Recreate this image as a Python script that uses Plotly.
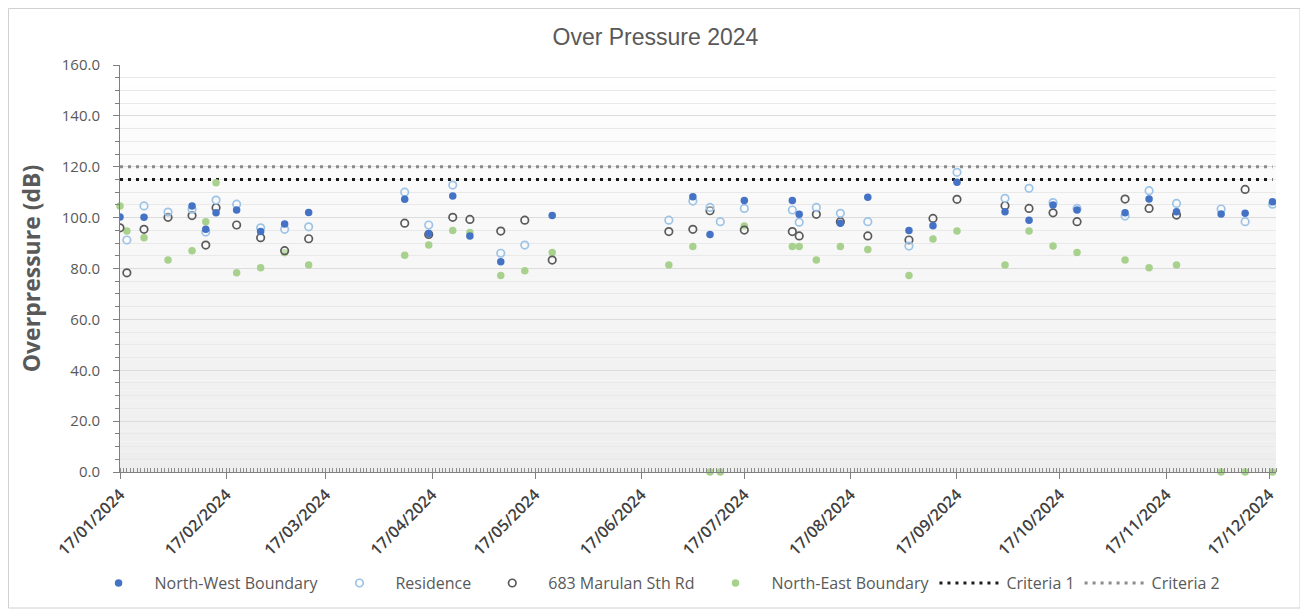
import plotly.graph_objects as go

# ---------------- data ----------------
dates = [
    "2024-01-17", "2024-01-19", "2024-01-24", "2024-01-31", "2024-02-07",
    "2024-02-11", "2024-02-14", "2024-02-20", "2024-02-27", "2024-03-05",
    "2024-03-12", "2024-04-09", "2024-04-16", "2024-04-23", "2024-04-28",
    "2024-05-07", "2024-05-14", "2024-05-22", "2024-06-25", "2024-07-02",
    "2024-07-07", "2024-07-10", "2024-07-17", "2024-07-31", "2024-08-02",
    "2024-08-07", "2024-08-14", "2024-08-22", "2024-09-03", "2024-09-10",
    "2024-09-17", "2024-10-01", "2024-10-08", "2024-10-15", "2024-10-22",
    "2024-11-05", "2024-11-12", "2024-11-20", "2024-12-03", "2024-12-10",
    "2024-12-18",
]
north_west = [
    100.2, None, 100.1, None, 104.6,
    95.4, 101.9, 103.0, 94.5, 97.5,
    102.0, 107.2, 93.8, 108.5, 92.8,
    82.7, None, 100.8, None, 108.2,
    93.4, None, 106.7, 106.7, 101.3,
    None, 97.8, 108.0, 94.9, 96.8,
    113.9, 102.3, 99.0, 105.0, 103.0,
    101.9, 107.3, 102.3, 101.4, 101.7,
    106.2,
]
residence = [
    None, 91.2, 104.6, 102.2, 103.3,
    94.3, 106.9, 105.3, 96.0, 95.4,
    96.4, 110.0, 97.1, 112.8, None,
    86.0, 89.2, None, 99.0, 106.5,
    104.0, 98.4, 103.6, 103.0, 98.2,
    104.0, 101.7, 98.4, 88.8, None,
    117.8, 107.6, 111.5, 105.9, 103.6,
    100.6, 110.6, 105.6, 103.4, 98.4,
    105.3,
]
marulan_683 = [
    96.0, 78.3, 95.4, 100.1, 100.8,
    89.2, 103.9, 97.1, 92.1, 87.0,
    91.7, 97.8, 93.4, 100.1, 99.3,
    94.7, 99.0, 83.3, 94.5, 95.4,
    102.7, None, 95.1, 94.5, 92.8,
    101.3, 98.4, 92.8, 91.2, 99.7,
    107.2, 104.7, 103.6, 101.9, 98.4,
    107.3, 103.6, 101.0, None, 111.1,
    None,
]
north_east = [
    104.6, 94.7, 92.1, 83.3, 87.0,
    98.4, 113.7, 78.3, 80.3, 86.2,
    81.4, 85.2, 89.2, 94.9, 94.2,
    77.2, 79.1, 86.3, 81.4, 88.6,
    0.0, 0.0, 96.7, 88.6, 88.6,
    83.3, 88.6, 87.5, 77.2, 91.6,
    94.7, 81.4, 94.7, 88.8, 86.3,
    83.3, 80.3, 81.4, 0.0, 0.0,
    0.0,
]
criteria_1 = 115
criteria_2 = 120

tick_dates = [
    "2024-01-17", "2024-02-17", "2024-03-17", "2024-04-17", "2024-05-17",
    "2024-06-17", "2024-07-17", "2024-08-17", "2024-09-17", "2024-10-17",
    "2024-11-17", "2024-12-17",
]
tick_labels = [
    "17/01/2024", "17/02/2024", "17/03/2024", "17/04/2024", "17/05/2024",
    "17/06/2024", "17/07/2024", "17/08/2024", "17/09/2024", "17/10/2024",
    "17/11/2024", "17/12/2024",
]
y_ticks = [0, 20, 40, 60, 80, 100, 120, 140, 160]
y_labels = ["%.1f" % v for v in y_ticks]

# ---------------- figure ----------------
fig = go.Figure()

fig.add_trace(go.Scatter(
    x=dates, y=[criteria_1] * len(dates), mode="lines", name="Criteria 1",
    line=dict(color="#1a1a1a", width=3, dash="3px,5px"), legendrank=5,
    hoverinfo="skip",
))
fig.add_trace(go.Scatter(
    x=dates, y=[criteria_2] * len(dates), mode="lines", name="Criteria 2",
    line=dict(color="#8c8c8c", width=3, dash="3px,5px"), legendrank=6,
    hoverinfo="skip",
))
fig.add_trace(go.Scatter(
    x=dates, y=north_east, mode="markers", name="North-East Boundary",
    marker=dict(size=7.5, color="#A9D18E", line=dict(width=0)), legendrank=4,
    cliponaxis=False,
))
fig.add_trace(go.Scatter(
    x=dates, y=marulan_683, mode="markers", name="683 Marulan Sth Rd",
    marker=dict(size=7.5, color="rgba(255,255,255,0.3)",
                line=dict(width=1.7, color="#5a5a5a")), legendrank=3,
))
fig.add_trace(go.Scatter(
    x=dates, y=residence, mode="markers", name="Residence",
    marker=dict(size=7.5, color="rgba(255,255,255,0.3)",
                line=dict(width=1.7, color="#9DC3E6")), legendrank=2,
))
fig.add_trace(go.Scatter(
    x=dates, y=north_west, mode="markers", name="North-West Boundary",
    marker=dict(size=7.5, color="#4472C4", line=dict(width=0)), legendrank=1,
))

# gradient plot background (white top -> light grey bottom)
shapes = []
n_bands = 40
for i in range(n_bands):
    t = i / (n_bands - 1)
    g = int(round(255 - (255 - 238) * (1 - t)))
    shapes.append(dict(
        type="rect", xref="paper", yref="paper", layer="below",
        x0=0, x1=1, y0=i / n_bands, y1=(i + 1) / n_bands,
        fillcolor="rgb(%d,%d,%d)" % (g, g, g), line=dict(width=0),
    ))
# outer chart border (plot area spans 1156 x 407 px, offset 112/57 px)
PW, PH = 1156.0, 407.0
shapes.append(dict(
    type="rect", xref="paper", yref="paper", layer="above",
    x0=(0.5 - 112) / PW, x1=(1292 - 112) / PW,
    y0=(464 - 600) / PH, y1=(464 - 0.5) / PH,
    line=dict(color="#d0d0d0", width=1), fillcolor="rgba(0,0,0,0)",
))

fig.update_layout(
    width=1308, height=614,
    margin=dict(l=112, r=40, t=57, b=150),
    paper_bgcolor="white",
    plot_bgcolor="rgba(0,0,0,0)",
    shapes=shapes,
    title=dict(
        text="Over Pressure 2024", x=0.495, xanchor="center", y=0.953, yanchor="middle",
        font=dict(family="Liberation Sans Narrow, Arial Narrow, Arial, sans-serif",
                  size=23, color="#595959"),
    ),
    showlegend=True,
    legend=dict(
        orientation="h", x=0.462, xanchor="center", y=-0.273, yanchor="middle",
        font=dict(family="Open Sans, Arial, sans-serif", size=16, color="#595959"),
        itemwidth=62, tracegroupgap=0, bgcolor="rgba(0,0,0,0)",
    ),
    xaxis=dict(
        type="date",
        range=["2024-01-17", "2024-12-19"],
        tickmode="array", tickvals=tick_dates, ticktext=tick_labels,
        tickangle=-45,
        tickfont=dict(family="Open Sans, Arial, sans-serif", size=16, color="#404040",
                      weight=600),
        showgrid=False, zeroline=False,
        showline=True, linecolor="#7f7f7f", linewidth=1,
        ticks="outside", ticklen=6, tickcolor="#7f7f7f",
        minor=dict(ticks="inside", ticklen=4, tickcolor="#8c8c8c",
                   dtick=86400000, tick0="2024-01-17", showgrid=False),
        fixedrange=True,
    ),
    yaxis=dict(
        range=[0, 160],
        tickmode="array", tickvals=y_ticks, ticktext=y_labels,
        tickfont=dict(family="Open Sans, Arial, sans-serif", size=15, color="#595959"),
        ticklabelstandoff=10,
        showgrid=True, gridcolor="#dcdcdc", gridwidth=1,
        zeroline=False,
        showline=True, linecolor="#7f7f7f", linewidth=1,
        ticks="outside", ticklen=6, tickcolor="#7f7f7f",
        minor=dict(ticks="outside", ticklen=4, tickcolor="#7f7f7f",
                   dtick=5, tick0=0, showgrid=True, gridcolor="#e9e9e9", gridwidth=1),
        title=dict(text="<b>Overpressure (dB)</b>", standoff=14,
                   font=dict(family="Open Sans, Arial, sans-serif", size=23, color="#595959")),
        fixedrange=True,
    ),
)

fig.write_html("out.html")
